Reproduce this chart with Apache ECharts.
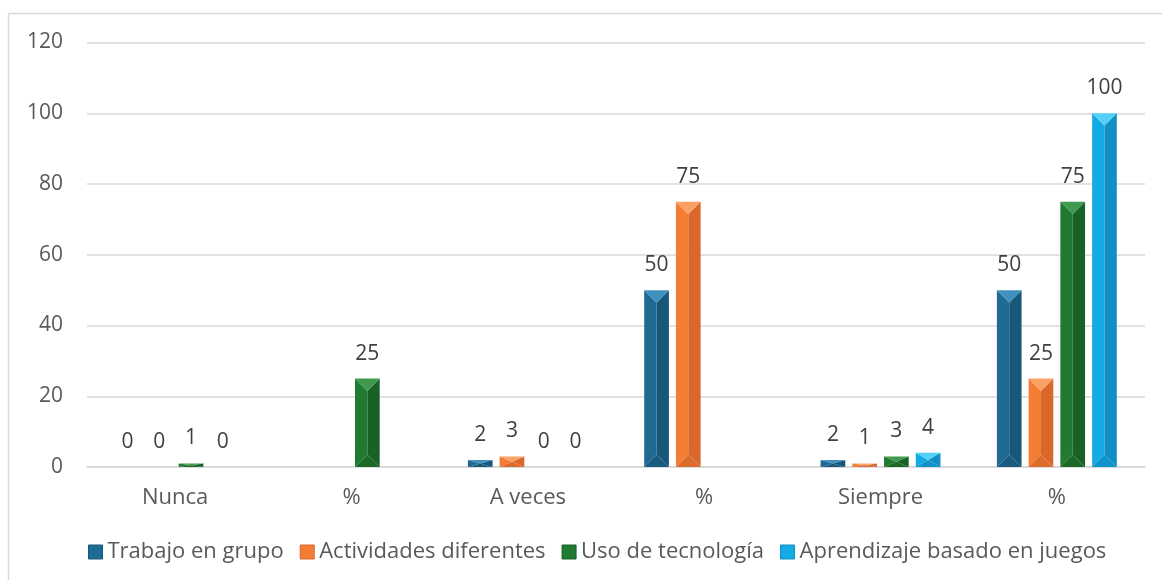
<!DOCTYPE html>
<html>
<head>
<meta charset="utf-8">
<script src="https://cdn.jsdelivr.net/npm/echarts@6/dist/echarts.min.js"></script>
<style>
  html, body { margin: 0; padding: 0; background: #ffffff; }
  #chart { width: 1162px; height: 580px; }
</style>
</head>
<body>
<div id="chart"></div>
<script>
// Category labels along the x axis
const categories = ['Nunca', '%', 'A veces', '%', 'Siempre', '%'];

// Series values (null = no bar, no label)
const trabajoEnGrupo = [0, null, 2, 50, 2, 50];
const actividadesDiferentes = [0, null, 3, 75, 1, 25];
const usoDeTecnologia = [1, 25, 0, null, 3, 75];
const aprendizajeJuegos = [0, null, 0, null, 4, 100];

// Y axis tick range
const yMin = 0, yMax = 120, yStep = 20;

const seriesNames = ['Trabajo en grupo', 'Actividades diferentes', 'Uso de tecnología', 'Aprendizaje basado en juegos'];
const seriesValues = [trabajoEnGrupo, actividadesDiferentes, usoDeTecnologia, aprendizajeJuegos];

// Face shades for the bevelled bars: left, right, top, bottom
const palettes = [
  { base: '#1f6a93', right: '#175779', top: '#3f90bd', bottom: '#1a5a7e' },
  { base: '#f47c34', right: '#d9682a', top: '#fba164', bottom: '#dc6c2c' },
  { base: '#217a31', right: '#196226', top: '#3f9a4d', bottom: '#1b6829' },
  { base: '#14aae3', right: '#0f8fc3', top: '#52d0f6', bottom: '#1093c9' }
];

const FONT = '"Open Sans", "Liberation Sans", sans-serif';

function makeRenderer(si) {
  const pal = palettes[si];
  return function (params, api) {
    const v = api.value(1);
    if (v === null || v === undefined || isNaN(v)) return;
    const cat = api.value(0);
    const band = api.size([1, 0])[0];
    const pitch = band * 0.18;
    const w = band * 0.14;
    const p0 = api.coord([cat, 0]);
    const p1 = api.coord([cat, v]);
    const cx = p0[0] + (si - 1.5) * pitch;
    const x0 = cx - w / 2, x1 = cx + w / 2;
    const yb = p0[1], yt = p1[1];
    const h = yb - yt;
    const d = Math.min(w / 2, h / 2);
    const children = [];
    if (h > 0) {
      children.push(
        { type: 'polygon', shape: { points: [[x0, yt], [cx, yt + d], [cx, yb - d], [x0, yb]] }, style: { fill: pal.base } },
        { type: 'polygon', shape: { points: [[x1, yt], [cx, yt + d], [cx, yb - d], [x1, yb]] }, style: { fill: pal.right } },
        { type: 'polygon', shape: { points: [[x0, yt], [x1, yt], [cx, yt + d]] }, style: { fill: pal.top } },
        { type: 'polygon', shape: { points: [[x0, yb], [x1, yb], [cx, yb - d]] }, style: { fill: pal.bottom } }
      );
    }
    children.push({
      type: 'text',
      x: cx,
      y: yt - 25,
      style: {
        text: String(v),
        fill: '#404040',
        font: '21px ' + FONT,
        align: 'center',
        verticalAlign: 'middle'
      }
    });
    return { type: 'group', children: children };
  };
}

const chart = echarts.init(document.getElementById('chart'), null, { renderer: 'canvas' });

chart.setOption({
  backgroundColor: '#ffffff',
  animation: false,
  textStyle: { fontFamily: FONT },
  graphic: [
    { type: 'line', shape: { x1: 8.5, y1: 13.5, x2: 1162, y2: 13.5 }, style: { stroke: '#d9d9d9', lineWidth: 1.5 } },
    { type: 'line', shape: { x1: 8.5, y1: 13.5, x2: 8.5, y2: 580 }, style: { stroke: '#d9d9d9', lineWidth: 1.5 } }
  ],
  grid: { left: 87, right: 17, top: 42.5, bottom: 113, containLabel: false },
  legend: {
    bottom: 12,
    left: 83,
    icon: 'rect',
    itemWidth: 14,
    itemHeight: 14,
    itemGap: 16,
    textStyle: { fontSize: 22, color: '#595959', fontFamily: FONT, padding: [0, 0, 0, 0] },
    data: seriesNames.map(function (name, si) {
      return { name: name, itemStyle: { color: palettes[si].base, borderColor: palettes[si].right, borderWidth: 1 } };
    })
  },
  xAxis: {
    type: 'category',
    data: categories,
    axisTick: { show: false },
    axisLine: { lineStyle: { color: '#d9d9d9', width: 1.5 } },
    axisLabel: { fontSize: 22, color: '#595959', margin: 20, fontFamily: FONT },
    splitLine: { show: false }
  },
  yAxis: {
    type: 'value',
    min: yMin,
    max: yMax,
    interval: yStep,
    axisLine: { show: false },
    axisTick: { show: false },
    axisLabel: { fontSize: 21, color: '#595959', margin: 24, fontFamily: FONT },
    splitLine: { lineStyle: { color: '#d9d9d9', width: 1.5 } }
  },
  series: seriesNames.map(function (name, si) {
    return {
      name: name,
      type: 'custom',
      renderItem: makeRenderer(si),
      itemStyle: { color: palettes[si].base },
      encode: { x: 0, y: 1 },
      data: seriesValues[si].map(function (v, i) { return [i, v === null ? '-' : v]; })
    };
  })
});
</script>
</body>
</html>
